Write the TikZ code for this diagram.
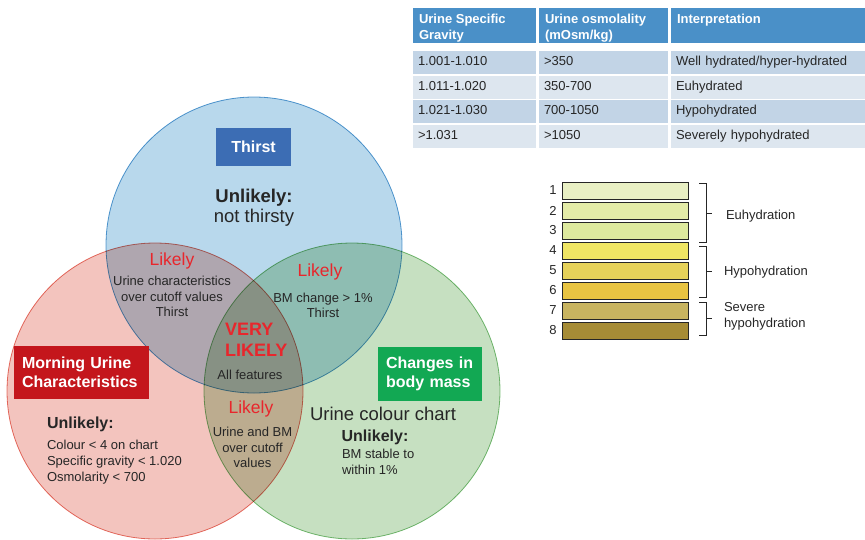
\documentclass[tikz,border=0pt]{standalone}
\usepackage{fontspec}
\setmainfont{Liberation Sans}
\usetikzlibrary{positioning}

\definecolor{thirstfill}{RGB}{184,216,236}
\definecolor{thirstline}{RGB}{90,160,212}
\definecolor{urinefill}{RGB}{243,196,190}
\definecolor{urineline}{RGB}{232,118,106}
\definecolor{massfill}{RGB}{198,224,193}
\definecolor{massline}{RGB}{124,192,122}
\definecolor{thirstbox}{RGB}{60,109,180}
\definecolor{urinebox}{RGB}{196,22,28}
\definecolor{massbox}{RGB}{18,168,83}
\definecolor{likelyred}{RGB}{232,38,44}
\definecolor{darktext}{RGB}{38,38,38}
\definecolor{headblue}{RGB}{74,144,200}
\definecolor{rowdark}{RGB}{194,212,230}
\definecolor{rowlight}{RGB}{221,230,239}
\definecolor{shadeA}{RGB}{233,240,196}
\definecolor{shadeB}{RGB}{228,236,168}
\definecolor{shadeC}{RGB}{222,234,158}
\definecolor{shadeD}{RGB}{240,230,100}
\definecolor{shadeE}{RGB}{230,210,90}
\definecolor{shadeF}{RGB}{232,196,66}
\definecolor{shadeG}{RGB}{200,180,96}
\definecolor{shadeH}{RGB}{166,140,54}

\begin{document}
\begin{tikzpicture}[x=1pt, y=-1pt,
    every node/.style={inner sep=0pt, outer sep=0pt, text=darktext, font=\fontsize{13}{15.5}\selectfont},
    vennset/.style={circle, minimum size=296pt, line width=0.8pt},
    setlabel/.style={fill=#1, text=white, font=\bfseries\fontsize{16}{18.5}\selectfont},
    likely/.style={text=likelyred, font=\fontsize{17.5}{20}\selectfont},
    small/.style={align=center, font=\fontsize{13}{15.5}\selectfont},
    unlikely/.style={font=\bfseries\fontsize{16}{18}\selectfont},
    headcell/.style={fill=headblue, anchor=north west, minimum height=35pt, minimum width=#1},
    headtext/.style={text=white, align=left, font=\bfseries\fontsize{13}{16}\selectfont},
    bodycell/.style={fill=#1, anchor=north west, minimum height=23pt, inner xsep=5pt, align=left, execute at begin node=\strut},
    colA/.style={text width=113pt}, colB/.style={text width=119pt}, colC/.style={text width=184pt},
    bar/.style={fill=#1, draw=darktext, line width=0.9pt, anchor=north west, minimum width=126pt, minimum height=17pt},
    bracket/.style={draw=darktext, line width=0.8pt}]
    \useasboundingbox (0,0) rectangle (865,539);

    % the three sets
    \begin{scope}[blend group=multiply]
        \node[vennset, fill=thirstfill, draw=thirstline] (thirstset) at (254,245) {};
        \node[vennset, fill=urinefill, draw=urineline] (urineset) at (155,391) {};
        \node[vennset, fill=massfill, draw=massline] (massset) at (352,391) {};
    \end{scope}

    \node[setlabel=thirstbox, minimum width=75pt, minimum height=38pt] (thirstlabel) at (253.5,147) {Thirst};
    \node[setlabel=urinebox, minimum width=135pt, minimum height=53pt, text width=119pt, align=left] (urinelabel) at (81.5,372.5) {Morning Urine\\Characteristics};
    \node[setlabel=massbox, minimum width=104pt, minimum height=54pt, text width=88pt, align=left, font=\bfseries\fontsize{16}{19}\selectfont] (masslabel) at (430,374) {Changes in\\body mass};

    \node[align=center, font=\fontsize{18.5}{19.5}\selectfont] (thirstunlikely) at (254,207.5) {{\bfseries Unlikely:}\\not thirsty};

    \node[likely] (likelyUT) at (172,261) {Likely};
    \node[small] (textUT) at (172,296.5) {Urine characteristics\\over cutoff values\\Thirst};
    \node[likely] (likelyTM) at (320,272) {Likely};
    \node[small, font=\fontsize{13}{15}\selectfont] (textTM) at (323,305.5) {BM change > 1\%\\Thirst};
    \node[anchor=west, align=left, text=likelyred, font=\bfseries\fontsize{18}{21}\selectfont] (verylikely) at (225,339.5) {VERY\\LIKELY};
    \node[small] (allfeatures) at (250,375) {All features};
    \node[likely] (likelyUM) at (251,409) {Likely};
    \node[small] (textUM) at (252.5,447.5) {Urine and BM\\over cutoff\\values};

    \node[unlikely, anchor=west] (urineunlikely) at (47,424) {Unlikely:};
    \node[small, align=left, anchor=west, font=\fontsize{13}{16}\selectfont] (urinetext) at (47,462) {Colour < 4 on chart\\Specific gravity < 1.020\\Osmolarity < 700};

    \node[font=\fontsize{18.5}{20}\selectfont] (chartnote) at (383,414) {Urine colour chart};
    \node[unlikely] (massunlikely) at (375,437) {Unlikely:};
    \node[small, align=left, anchor=west, font=\fontsize{13}{16}\selectfont] (masstext) at (342,462) {BM stable to\\within 1\%};

    % table
    \node[headcell=123pt] (headSG) at (413,8) {};
    \node[headcell=129pt] (headOsm) at (539,8) {};
    \node[headcell=194pt] (headInt) at (671,8) {};
    \node[headtext, below right=6.5pt and 6pt of headSG.north west] {Urine Specific\\Gravity};
    \node[headtext, below right=6.5pt and 6pt of headOsm.north west] {Urine osmolality\\(mOsm/kg)};
    \node[headtext, below right=6.5pt and 6pt of headInt.north west] {Interpretation};
    \node[bodycell=rowdark, colA] (sg1) at (413,51) {1.001-1.010};
    \node[bodycell=rowdark, colB] (osm1) at (539,51) {>350};
    \node[bodycell=rowdark, colC] (int1) at (671,51) {Well hydrated/hyper-hydrated};
    \node[bodycell=rowlight, colA] (sg2) at (413,75.5) {1.011-1.020};
    \node[bodycell=rowlight, colB] (osm2) at (539,75.5) {350-700};
    \node[bodycell=rowlight, colC] (int2) at (671,75.5) {Euhydrated};
    \node[bodycell=rowdark, colA] (sg3) at (413,100) {1.021-1.030};
    \node[bodycell=rowdark, colB] (osm3) at (539,100) {700-1050};
    \node[bodycell=rowdark, colC] (int3) at (671,100) {Hypohydrated};
    \node[bodycell=rowlight, colA] (sg4) at (413,124.5) {>1.031};
    \node[bodycell=rowlight, colB] (osm4) at (539,124.5) {>1050};
    \node[bodycell=rowlight, colC] (int4) at (671,124.5) {Severely hypohydrated};

    % colour chart
    \node[bar=shadeA] (bar1) at (562,182) {};
    \node[bar=shadeB] (bar2) at (562,202) {};
    \node[bar=shadeC] (bar3) at (562,222) {};
    \node[bar=shadeD] (bar4) at (562,242) {};
    \node[bar=shadeE] (bar5) at (562,262) {};
    \node[bar=shadeF] (bar6) at (562,282) {};
    \node[bar=shadeG] (bar7) at (562,302) {};
    \node[bar=shadeH] (bar8) at (562,322) {};
    \node[left=5.5pt of bar1] (num1) {1};
    \node[left=5.5pt of bar2] (num2) {2};
    \node[left=5.5pt of bar3] (num3) {3};
    \node[left=5.5pt of bar4] (num4) {4};
    \node[left=5.5pt of bar5] (num5) {5};
    \node[left=5.5pt of bar6] (num6) {6};
    \node[left=5.5pt of bar7] (num7) {7};
    \node[left=5.5pt of bar8] (num8) {8};

    \draw[bracket] (699,183) -- (706,183) -- (706,242) -- (699,242) (706,213) -- (712,213);
    \draw[bracket] (699,246) -- (706,246) -- (706,297) -- (699,297) (706,271) -- (712,271);
    \draw[bracket] (699,302) -- (706,302) -- (706,335) -- (699,335) (706,318) -- (712,318);
    \node[anchor=west] (euhyd) at (726,216.5) {Euhydration};
    \node[anchor=west] (hypohyd) at (724,272) {Hypohydration};
    \node[anchor=west, align=left, font=\fontsize{13}{16}\selectfont] (severehyd) at (724,316) {Severe\\hypohydration};
\end{tikzpicture}
\end{document}
